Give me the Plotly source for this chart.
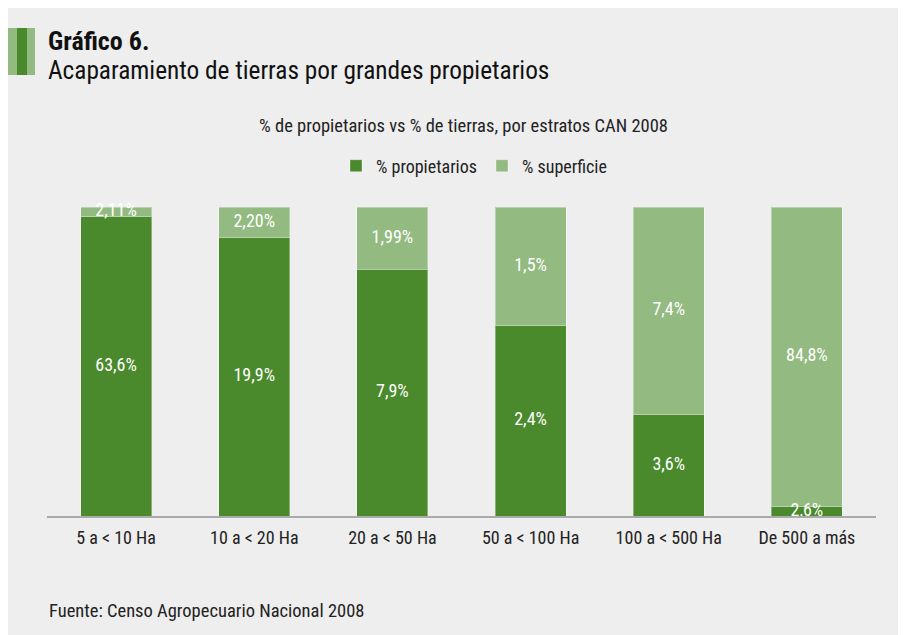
import plotly.graph_objects as go

categories = ["5 a < 10 Ha", "10 a < 20 Ha", "20 a < 50 Ha", "50 a < 100 Ha", "100 a < 500 Ha", "De 500 a más"]
propietarios = [63.6, 19.9, 7.9, 2.4, 3.6, 2.6]
superficie = [2.11, 2.20, 1.99, 1.5, 7.4, 84.8]
propietarios_labels = ["63,6%", "19,9%", "7,9%", "2,4%", "3,6%", "2,6%"]
superficie_labels = ["2,11%", "2,20%", "1,99%", "1,5%", "7,4%", "84,8%"]

DARK = "#4a8a2c"
LIGHT = "#93ba80"
BG = "#eeeeee"
FONT = "Roboto Condensed, Liberation Sans Narrow, Roboto, sans-serif"

# page is offset by the 8px body margin; reference pixel coords -> figure coords
OFF = 8
W, H = 906, 635
L = 47 - OFF
T = 207 - OFF
R = W - (876 - OFF)
B = H - (516 - OFF)
PW, PH = W - L - R, H - T - B


def px(x):
    return (x - OFF - L) / PW


def py(y):
    return (H - B - (y - OFF)) / PH


# label positions: centre of each normalised (100%) segment, derived from the data
totals = [p + s for p, s in zip(propietarios, superficie)]
prop_mid = [p / t * 100 / 2 for p, t in zip(propietarios, totals)]
sup_mid = [p / t * 100 + s / t * 100 / 2 for p, s, t in zip(propietarios, superficie, totals)]

fig = go.Figure()
fig.add_trace(go.Bar(
    x=categories, y=propietarios, name="% propietarios",
    marker=dict(color=DARK, line=dict(color="rgba(255,255,255,0.35)", width=1)),
    hoverinfo="skip",
))
fig.add_trace(go.Bar(
    x=categories, y=superficie, name="% superficie",
    marker=dict(color=LIGHT, line=dict(color="rgba(255,255,255,0.35)", width=1)),
    hoverinfo="skip",
))
for mids, labels in ((prop_mid, propietarios_labels), (sup_mid, superficie_labels)):
    fig.add_trace(go.Scatter(
        x=categories, y=mids, mode="text", text=labels, textposition="middle center",
        textfont=dict(color="white", size=18, family=FONT),
        showlegend=False, hoverinfo="skip", cliponaxis=False,
    ))

fig.update_layout(
    width=W, height=H,
    barmode="stack", barnorm="percent", bargap=0.485,
    paper_bgcolor=BG, plot_bgcolor=BG,
    margin=dict(l=L, r=R, t=T, b=B, pad=0),
    font=dict(family=FONT, color="#222222", size=18),
    showlegend=True,
    legend=dict(orientation="h", x=px(474), xanchor="center", y=py(166), yanchor="middle",
                font=dict(size=18, family=FONT, color="#222222"), bgcolor="rgba(0,0,0,0)",
                itemwidth=30, traceorder="normal"),
    xaxis=dict(showline=True, linecolor="#aaaaaa", linewidth=2, showgrid=False,
               ticks="outside", ticklen=4, tickcolor="rgba(0,0,0,0)",
               tickfont=dict(size=18, family=FONT, color="#222222"), fixedrange=True),
    yaxis=dict(range=[0, 100], visible=False, showgrid=False, zeroline=False, fixedrange=True),
    shapes=[
        dict(type="rect", xref="paper", yref="paper", x0=px(8), x1=px(17), y0=py(75), y1=py(28),
             fillcolor=LIGHT, line=dict(width=0)),
        dict(type="rect", xref="paper", yref="paper", x0=px(17), x1=px(27), y0=py(75), y1=py(28),
             fillcolor=DARK, line=dict(width=0)),
        dict(type="rect", xref="paper", yref="paper", x0=px(27), x1=px(35), y0=py(75), y1=py(28),
             fillcolor=LIGHT, line=dict(width=0)),
    ],
    annotations=[
        dict(text="<b>Gráfico 6.</b>", xref="paper", yref="paper", x=px(46), y=py(41),
             xanchor="left", yanchor="middle", showarrow=False,
             font=dict(size=26, family=FONT, color="#111111")),
        dict(text="Acaparamiento de tierras por grandes propietarios", xref="paper", yref="paper",
             x=px(46), y=py(70), xanchor="left", yanchor="middle", showarrow=False,
             font=dict(size=25.3, family=FONT, color="#111111")),
        dict(text="% de propietarios vs % de tierras, por estratos CAN 2008", xref="paper", yref="paper",
             x=px(463), y=py(126), xanchor="center", yanchor="middle", showarrow=False,
             font=dict(size=18.5, family=FONT, color="#222222")),
        dict(text="Fuente: Censo Agropecuario Nacional 2008", xref="paper", yref="paper",
             x=px(47), y=py(611), xanchor="left", yanchor="middle", showarrow=False,
             font=dict(size=18.5, family=FONT, color="#222222")),
    ],
)

fig.write_html("out.html", config={"displayModeBar": False})
